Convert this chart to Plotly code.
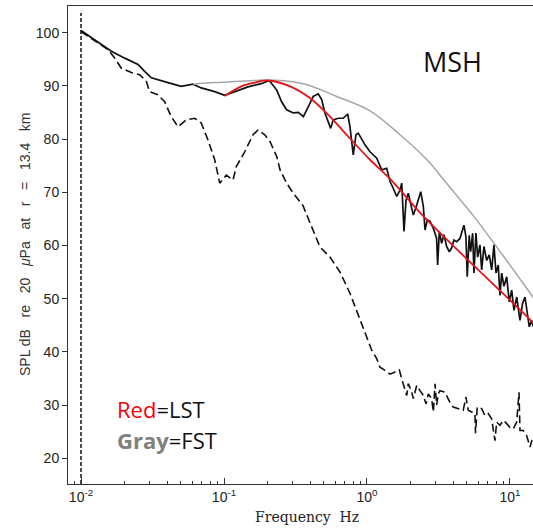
import plotly.graph_objects as go

# ---- data (log10 of frequency in Hz, SPL in dB) ----
solid_logf = [-2.00, -1.881, -1.788, -1.694, -1.601, -1.555, -1.508, -1.392, -1.299, -1.217,
              -1.159, -1.065, -0.995, -0.832, -0.739, -0.692, -0.678, -0.631, -0.597, -0.562,
              -0.515, -0.480, -0.445, -0.410, -0.376, -0.341, -0.317, -0.294, -0.271, -0.254,
              -0.236, -0.201, -0.166, -0.135, -0.119, -0.096, -0.077, -0.061, -0.014, 0.021,
              0.068, 0.103, 0.138, 0.161, 0.184, 0.208, 0.231, 0.243, 0.259, 0.273,
              0.289, 0.313, 0.324, 0.348, 0.376, 0.394, 0.406, 0.422, 0.441, 0.464,
              0.487, 0.494, 0.506, 0.522, 0.538, 0.557, 0.576, 0.592, 0.608, 0.627,
              0.650, 0.678, 0.692, 0.701, 0.715, 0.725, 0.739, 0.748, 0.762, 0.774,
              0.790, 0.802, 0.818, 0.837, 0.855, 0.872, 0.888, 0.902, 0.918, 0.930,
              0.942, 0.958, 0.977, 0.995, 1.012, 1.028, 1.047, 1.070, 1.088, 1.105,
              1.121, 1.135, 1.152, 1.163]
solid_db = [100.4, 98.3, 96.5, 95.2, 94.0, 92.7, 91.5, 90.6, 89.9, 90.3,
            89.6, 88.9, 88.2, 89.8, 90.4, 90.9, 90.8, 89.2, 87.0, 85.5,
            84.9, 85.0, 84.2, 86.1, 88.0, 88.5, 87.4, 84.9, 83.0, 82.0,
            83.6, 83.9, 83.9, 84.7, 82.3, 77.0, 80.8, 81.1, 78.9, 77.6,
            76.4, 74.2, 74.5, 72.0, 70.7, 69.2, 70.4, 71.7, 62.6, 68.5,
            69.8, 67.3, 65.7, 67.6, 70.1, 67.3, 62.9, 64.8, 64.5, 63.2,
            61.3, 56.3, 62.6, 60.4, 62.0, 59.8, 58.8, 59.5, 61.0, 60.7,
            61.3, 63.8, 61.6, 54.1, 61.9, 58.8, 62.3, 54.8, 62.3, 57.8,
            60.1, 55.4, 59.8, 57.2, 58.2, 55.4, 60.1, 54.8, 56.3, 50.6,
            54.8, 52.3, 54.1, 49.4, 51.6, 47.8, 50.3, 45.9, 49.1, 50.3,
            47.2, 44.7, 45.9, 44.7]

dashed_logf = [-2.00, -1.811, -1.764, -1.718, -1.648, -1.590, -1.543, -1.520, -1.462, -1.415,
               -1.369, -1.322, -1.264, -1.205, -1.159, -1.112, -1.065, -1.030, -0.984, -0.937,
               -0.914, -0.855, -0.797, -0.762, -0.715, -0.678, -0.631, -0.608, -0.562, -0.515,
               -0.448, -0.329, -0.259, -0.189, -0.119, -0.049, 0.009, 0.033, 0.068, 0.091,
               0.126, 0.161, 0.196, 0.226, 0.243, 0.261, 0.278, 0.289, 0.313, 0.324,
               0.348, 0.371, 0.394, 0.413, 0.429, 0.452, 0.464, 0.476, 0.487, 0.499,
               0.510, 0.545, 0.580, 0.603, 0.638, 0.673, 0.692, 0.708, 0.732, 0.755,
               0.759, 0.771, 0.802, 0.825, 0.848, 0.872, 0.895, 0.907, 0.930, 0.953,
               0.977, 1.000, 1.023, 1.047, 1.063, 1.070, 1.093, 1.117, 1.140, 1.159]
dashed_db = [100.2, 96.8, 95.2, 93.3, 92.5, 92.1, 90.8, 88.9, 88.3, 87.0,
             84.2, 82.3, 83.6, 83.9, 83.0, 79.8, 76.1, 71.7, 73.2, 72.3,
             74.8, 77.6, 80.8, 81.7, 80.8, 79.5, 76.7, 74.2, 71.7, 69.8,
             67.5, 59.7, 57.8, 55.0, 51.0, 46.1, 41.8, 40.3, 38.7, 37.1,
             36.5, 35.8, 36.2, 36.6, 34.9, 33.4, 31.8, 34.0, 32.4, 31.2,
             33.7, 32.7, 31.8, 30.2, 32.1, 31.2, 28.7, 34.0, 30.0, 32.1,
             32.7, 32.4, 30.5, 29.6, 29.3, 29.0, 31.5, 29.0, 28.7, 28.4,
             24.7, 29.6, 29.3, 28.0, 28.4, 27.4, 23.3, 26.8, 26.2, 27.1,
             26.5, 25.8, 25.5, 26.8, 32.4, 25.2, 25.2, 24.2, 22.1, 23.9]

fst_logf = [-1.217, -1.065, -0.925, -0.785, -0.678, -0.445, -0.212, 0.021, 0.231, 0.441,
            0.522, 0.743, 0.883, 1.000, 1.163]
fst_db = [90.3, 90.6, 90.8, 91.0, 91.1, 90.4, 88.0, 85.3, 80.8, 75.5,
          72.8, 65.6, 60.6, 56.3, 50.2]

lst_logf = [-0.995, -0.879, -0.785, -0.692, -0.538, -0.399, -0.259, -0.119, 0.021, 0.161,
            0.394, 0.627, 0.860, 1.093, 1.163]
lst_db = [88.1, 89.9, 90.6, 91.0, 89.9, 87.7, 84.2, 80.1, 76.1, 72.5,
          65.5, 59.3, 53.3, 47.3, 45.4]

cutoff_hz = 0.01
cutoff_db = [15.15, 103.7]

x_tick_vals = [0.01, 0.1, 1, 10]
x_tick_text = ["10<sup>-2</sup>", "10<sup>-1</sup>", "10<sup>0</sup>", "10<sup>1</sup>"]
y_tick_vals = [20, 30, 40, 50, 60, 70, 80, 90, 100]


def hz(logs):
    return [10 ** v for v in logs]


fig = go.Figure()

fig.add_trace(go.Scatter(x=[cutoff_hz, cutoff_hz], y=cutoff_db, mode="lines",
                         line=dict(color="#111111", width=1.5, dash="4px,2px")))
fig.add_trace(go.Scatter(x=hz(dashed_logf), y=dashed_db, mode="lines",
                         line=dict(color="#111111", width=1.6, dash="8px,4px")))
fig.add_trace(go.Scatter(x=hz(solid_logf), y=solid_db, mode="lines",
                         line=dict(color="#111111", width=1.7)))
fig.add_trace(go.Scatter(x=hz(fst_logf), y=fst_db, mode="lines",
                         line=dict(color="#a6a6a6", width=1.5, shape="spline", smoothing=1.0)))
fig.add_trace(go.Scatter(x=hz(lst_logf), y=lst_db, mode="lines",
                         line=dict(color="#e3151b", width=1.8, shape="spline", smoothing=1.0)))

tick_font = dict(family="Liberation Sans, Arial, sans-serif", size=14, color="#222222")

fig.update_layout(
    width=533, height=528,
    margin=dict(l=68, r=0, t=6, b=44, autoexpand=False),
    paper_bgcolor="white", plot_bgcolor="white",
    showlegend=False,
    xaxis=dict(type="log", range=[-2.091, 1.161],
               tickvals=x_tick_vals, ticktext=x_tick_text,
               ticks="inside", ticklen=6, tickwidth=1, tickcolor="#333333",
               minor=dict(ticks="inside", ticklen=3, tickcolor="#333333", dtick="D1", showgrid=False),
               showline=True, linecolor="#333333", linewidth=1, mirror=True,
               showgrid=False, zeroline=False, tickfont=tick_font, automargin=False),
    yaxis=dict(range=[15.15, 105.0], tickvals=y_tick_vals,
               ticks="outside", ticklen=5, tickwidth=1, tickcolor="#333333",
               showline=True, linecolor="#333333", linewidth=1,
               showgrid=False, zeroline=False, tickfont=tick_font, automargin=False),
)

sp = "\u00a0\u00a0\u00a0"
fig.add_annotation(text="Frequency\u00a0\u00a0Hz", xref="paper", yref="paper",
                   x=0.514, y=-0.069, showarrow=False, xanchor="center", yanchor="middle",
                   font=dict(family="DejaVu Serif", size=14, color="#222222"))
fig.add_annotation(text=f"SPL dB{sp}re{sp}20{sp}<i>μ</i>Pa{sp}at{sp}r{sp}={sp}13.4{sp}km",
                   xref="paper", yref="paper", x=-0.0925, y=0.502, textangle=-90,
                   showarrow=False, xanchor="center", yanchor="middle",
                   font=dict(family="Liberation Sans, Arial, sans-serif", size=14, color="#333333"))
fig.add_annotation(text="MSH", xref="paper", yref="paper", x=0.827, y=0.883,
                   showarrow=False, xanchor="center", yanchor="middle",
                   font=dict(family="Open Sans", size=27, color="#111111"))
fig.add_annotation(text="<span style='color:#ff0000'>Red</span>=LST", xref="paper", yref="paper",
                   x=0.101, y=0.157, showarrow=False, xanchor="left", yanchor="middle",
                   font=dict(family="Open Sans", size=22, color="#111111"))
fig.add_annotation(text="<span style='color:#808080'><b>Gray</b></span>=FST", xref="paper", yref="paper",
                   x=0.101, y=0.092, showarrow=False, xanchor="left", yanchor="middle",
                   font=dict(family="Open Sans", size=22, color="#111111"))

fig.write_html("out.html", config={"displayModeBar": False},
               post_script="document.body.style.margin='0';document.body.style.overflow='hidden';")
